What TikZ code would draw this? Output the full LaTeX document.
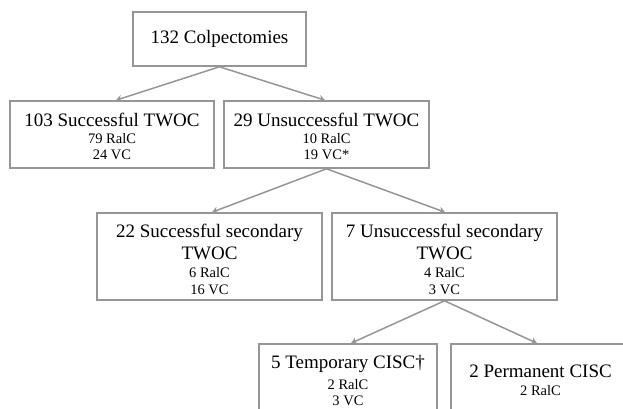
\documentclass[tikz,border=0pt]{standalone}
\usepackage{fontspec}
\setmainfont{Liberation Serif}
\usetikzlibrary{arrows.meta}
\begin{document}
\begin{tikzpicture}[x=1pt,y=-1pt,
  box/.style={draw=boxgray,line width=1.6pt,rectangle,inner sep=0pt,fill=white},
  tt/.style={inner sep=0pt,anchor=base,font=\fontsize{19}{22}\selectfont},
  ss/.style={inner sep=0pt,anchor=base,font=\fontsize{14.5}{17}\selectfont},
  conn/.style={draw=boxgray,line width=1.5pt,-{Stealth[length=6pt,width=7pt]}}]
\definecolor{boxgray}{RGB}{150,150,150}
\useasboundingbox (0,0) rectangle (623,408);
\clip (0,0) rectangle (623,408);
% boxes
\node[box,minimum width=173pt,minimum height=54pt] (a) at (219.5,39) {};
\node[box,minimum width=204pt,minimum height=67pt] (b) at (112,134.5) {};
\node[box,minimum width=205pt,minimum height=67pt] (c) at (326.5,134.5) {};
\node[box,minimum width=225pt,minimum height=87pt] (d) at (209.5,256.5) {};
\node[box,minimum width=225pt,minimum height=87pt] (e) at (444.5,256.5) {};
\node[box,minimum width=178pt,minimum height=76pt] (f) at (348,382) {};
\node[box,minimum width=179pt,minimum height=76pt] (g) at (540.5,382) {};
% texts
\node[tt] (a1) at (219.5,43) {132 Colpectomies};
\node[tt] (b1) at (112,126) {103 Successful TWOC};
\node[ss] (b2) at (112,143) {79 RalC};
\node[ss] (b3) at (112,159) {24 VC};
\node[tt] (c1) at (326.5,126) {29 Unsuccessful TWOC};
\node[ss] (c2) at (326.5,143) {10 RalC};
\node[ss] (c3) at (326.5,159) {19 VC*};
\node[tt] (d1) at (209.5,237) {22 Successful secondary};
\node[tt] (d2) at (209.5,259) {TWOC};
\node[ss] (d3) at (209.5,277) {6 RalC};
\node[ss] (d4) at (209.5,294) {16 VC};
\node[tt] (e1) at (444.5,237) {7 Unsuccessful secondary};
\node[tt] (e2) at (444.5,259) {TWOC};
\node[ss] (e3) at (444.5,277) {4 RalC};
\node[ss] (e4) at (444.5,294) {3 VC};
\node[tt] (f1) at (348,368) {5 Temporary CISC†};
\node[ss] (f2) at (348,389) {2 RalC};
\node[ss] (f3) at (348,405.5) {3 VC};
\node[tt] (g1) at (540.5,377) {2 Permanent CISC};
\node[ss] (g2) at (540.5,395) {2 RalC};
% connectors
\draw[conn] (a.south) -- ([xshift=4pt]b.north);
\draw[conn] (a.south) -- ([xshift=-1.5pt]c.north);
\draw[conn] (c.south) -- ([xshift=2.5pt]d.north);
\draw[conn] (c.south) -- ([xshift=0.5pt]e.north);
\draw[conn] (e.south) -- ([xshift=3pt]f.north);
\draw[conn] (e.south) -- ([xshift=-3.5pt]g.north);
\end{tikzpicture}
\end{document}
